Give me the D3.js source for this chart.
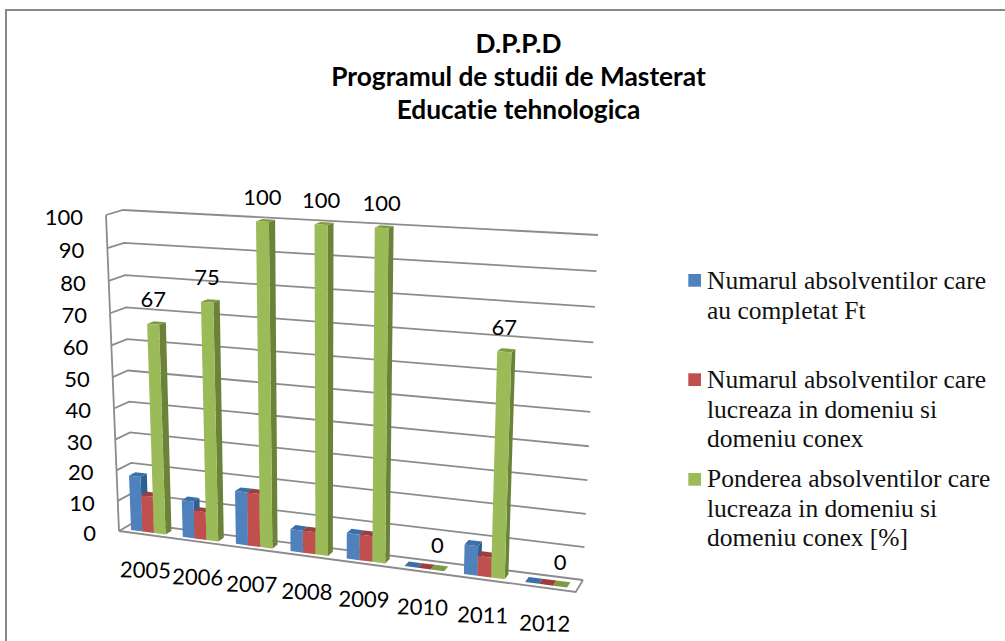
<!DOCTYPE html>
<html><head><meta charset="utf-8">
<script src="https://cdn.jsdelivr.net/npm/d3@7"></script>
<style>html,body{margin:0;padding:0;background:#fff}svg{display:block}text{font-variant-ligatures:none}</style>
</head><body><div id="c"></div>
<script>
const years = ["2005","2006","2007","2008","2009","2010","2011","2012"];
const completat = [18,12,17,7,8,0,9,0];
const lucreaza = [12,9,17,7,8,0,6,0];
const pondere = [67,75,100,100,100,0,67,0];
const dataLabels = ["67","75","100","100","100","0","67","0"];
const valueTicks = [0,10,20,30,40,50,60,70,80,90,100];
const titleLines = ["D.P.P.D","Programul de studii de Masterat","Educatie tehnologica"];
const legendItems = [
 {name:["Numarul absolventilor care","au completat Ft"],color:"#4F81BD"},
 {name:["Numarul absolventilor care","lucreaza in domeniu si","domeniu conex"],color:"#C0504D"},
 {name:["Ponderea absolventilor care","lucreaza in domeniu si","domeniu conex [%]"],color:"#9BBB59"}];
const seriesList = [
 {vals:completat,front:"#4F81BD",side:"#2F5F92",top:"#3C6EA8"},
 {vals:lucreaza,front:"#C0504D",side:"#8C3836",top:"#9C3F3C"},
 {vals:pondere,front:"#9BBB59",side:"#6B8239",top:"#7F9C45"}];

const W=1005,H=641;
const svg=d3.select("#c").append("svg").attr("width",W).attr("height",H);
svg.append("rect").attr("x",6).attr("y",10).attr("width",W+20).attr("height",H+20).attr("fill","#fff").attr("stroke","#888").attr("stroke-width",2);

const C={FLb:[119,531],FRb:[575.7,592],BLb:[133,523],BRb:[583,580],
         FLt:[106,215],FRt:[590,240],BLt:[123,210],BRt:[598,235]};
const uS=d3.scaleBand().domain(years).range([0,1]).paddingInner(0.33).paddingOuter(0.165);
const vS=d3.scaleLinear().domain([0,100]).range([0,1]);
const lerp=(a,b,t)=>[a[0]+(b[0]-a[0])*t,a[1]+(b[1]-a[1])*t];
const warp=(t,w)=>t/(w-(w-1)*t);
function P(u0,v0,d){
  const u=warp(u0,1.119),v=warp(v0,1.053);
  const fb=lerp(C.FLb,C.FRb,u),bb=lerp(C.BLb,C.BRb,u),ft=lerp(C.FLt,C.FRt,u),bt=lerp(C.BLt,C.BRt,u);
  return lerp(lerp(fb,ft,v),lerp(bb,bt,v),d);
}
const line=d3.line();
const grid="#8c8c8c";
const g=svg.append("g").attr("fill","none").attr("stroke",grid).attr("stroke-width",1.8);
valueTicks.forEach(t=>{const v=vS(t);
  g.append("path").attr("d",line([P(0,v,0),P(0,v,1),P(1,v,1)]));
});
g.append("path").attr("d",line([P(0,0,0),P(0,1,0)]));
g.append("path").attr("d",line([P(0,0,0),P(1,0,0),P(1,0,1)]));
const font="Lato, 'Open Sans', sans-serif";
svg.append("g").selectAll("text").data(valueTicks).join("text")
 .attr("x",t=>P(0,vS(t),0)[0]-23).attr("y",t=>P(0,vS(t),0)[1]+10).attr("text-anchor","end")
 .attr("font-family",font).attr("font-size",22).attr("fill","#000").text(d=>d);
const depthF=0.26,depthB=0.7;
const barW=uS.bandwidth()/3;
const barsG=svg.append("g");
years.forEach((y,i)=>{
 seriesList.forEach((s,k)=>{
  const u0=uS(y)+k*barW,u1=u0+barW,v=vS(s.vals[i]);
  const face=(pts,c)=>barsG.append("path").attr("d",line(pts)+"Z").attr("fill",c);
  face([P(u1,0,depthF),P(u1,0,depthB),P(u1,v,depthB),P(u1,v,depthF)],s.side);
  face([P(u0,v,depthF),P(u1,v,depthF),P(u1,v,depthB),P(u0,v,depthB)],s.top);
  if(v>0) face([P(u0,0,depthF),P(u1,0,depthF),P(u1,v,depthF),P(u0,v,depthF)],s.front);
 });
 const gp=P(uS(y)+2.5*barW,vS(pondere[i]),depthF);
 svg.append("text").attr("x",gp[0]).attr("y",gp[1]-17)
  .attr("text-anchor","middle").attr("font-family",font).attr("font-size",22).attr("fill","#000").text(dataLabels[i]);
 const bp=P(uS(y)+1.5*barW,0,0);
 svg.append("text").attr("transform",`translate(${bp[0]+0.5},${bp[1]+43.5}) rotate(1.5)`)
  .attr("text-anchor","middle").attr("font-family",font).attr("font-size",22).attr("fill","#000").text(y);
});
svg.append("g").selectAll("text").data(titleLines).join("text")
 .attr("x",518.5).attr("y",(d,i)=>53+i*33).attr("text-anchor","middle")
 .attr("font-family",font).attr("font-weight",700).attr("font-size",26.3).attr("fill","#000").text(d=>d);
const legY=[289,388,487];
const swatchY=[274,373.3,473];
legendItems.forEach((it,i)=>{
 svg.append("rect").attr("x",688.3).attr("y",swatchY[i]).attr("width",12.7).attr("height",12.7).attr("fill",it.color);
 it.name.forEach((t,j)=>svg.append("text").attr("x",707).attr("y",legY[i]+j*29.6)
   .attr("font-family","'Liberation Serif',serif").attr("font-size",25.5).attr("fill","#111").text(t));
});
</script></body></html>
